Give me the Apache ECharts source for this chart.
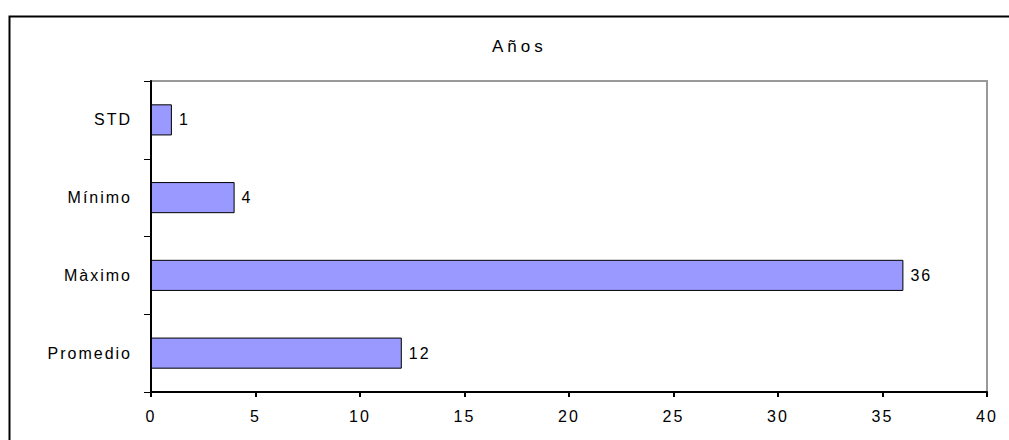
<!DOCTYPE html>
<html>
<head>
<meta charset="utf-8">
<script src="https://cdn.jsdelivr.net/npm/echarts@6/dist/echarts.min.js"></script>
<style>
  html, body { margin: 0; padding: 0; background: #fff; }
  #chart { width: 1009px; height: 440px; }
  #chart text { letter-spacing: 2px; }
</style>
</head>
<body>
<div id="chart"></div>
<script>
// Statistics of the "Años" variable, bottom to top
const titleText = 'Años';
const categories = ['Promedio', 'Màximo', 'Mínimo', 'STD'];
const values = [12, 36, 4, 1];
const xTicks = { min: 0, max: 40, interval: 5 };

const chart = echarts.init(document.getElementById('chart'), null, { renderer: 'svg' });
const font = 'Liberation Sans, Arial, sans-serif';

chart.setOption({
  animation: false,
  backgroundColor: '#fff',
  title: {
    text: titleText,
    left: 487,
    top: 33,
    textStyle: { fontFamily: font, fontSize: 17, fontWeight: 'normal', color: '#000' }
  },
  graphic: [{
    type: 'rect',
    shape: { x: 9.5, y: 16.5, width: 1010, height: 440 },
    style: { fill: null, stroke: '#000', lineWidth: 2 },
    silent: true
  }],
  grid: {
    left: 151, top: 81, right: 22, bottom: 48,
    show: true, borderColor: '#999', borderWidth: 2, backgroundColor: '#fff'
  },
  xAxis: {
    type: 'value',
    min: xTicks.min, max: xTicks.max, interval: xTicks.interval,
    axisLine: { show: true, lineStyle: { color: '#000', width: 2 } },
    axisTick: { show: true, length: 5, lineStyle: { color: '#000', width: 2 } },
    axisLabel: { fontFamily: font, fontSize: 16, color: '#000', margin: 16 },
    splitLine: { show: false }
  },
  yAxis: {
    type: 'category',
    data: categories,
    axisLine: { show: true, lineStyle: { color: '#000', width: 2 } },
    axisTick: { show: true, length: 7, lineStyle: { color: '#000', width: 1 } },
    axisLabel: { fontFamily: font, fontSize: 16, color: '#000', margin: 19 }
  },
  series: [{
    type: 'bar',
    data: values,
    barWidth: '40%',
    itemStyle: { color: '#9999FF', borderColor: '#000', borderWidth: 1 },
    label: {
      show: true, position: 'right', distance: 7,
      fontFamily: font, fontSize: 16, color: '#000'
    }
  }]
});

// wider tracking on the title
document.querySelectorAll('#chart text').forEach(function (t) {
  if (t.textContent === titleText) t.style.letterSpacing = '4px';
});
</script>
</body>
</html>
